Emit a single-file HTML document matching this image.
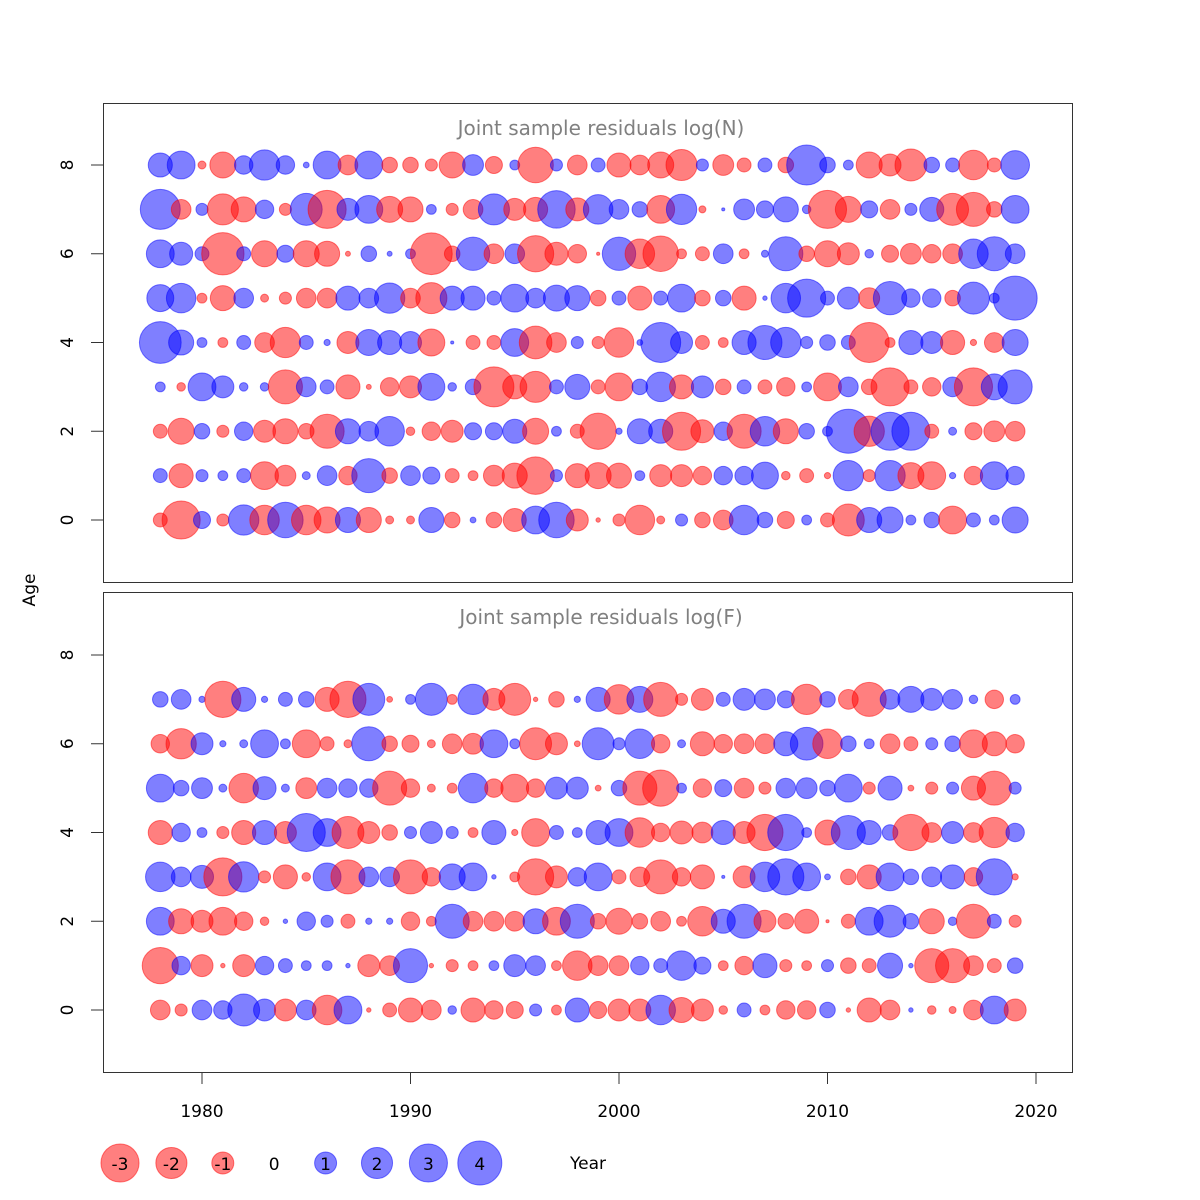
<!DOCTYPE html>
<html><head><meta charset="utf-8"><style>
body{margin:0;background:#fff;}
svg{display:block;font-family:"DejaVu Sans","Liberation Sans",sans-serif;}
</style></head><body>
<svg id="chart" width="1200" height="1200" xmlns="http://www.w3.org/2000/svg">
<rect width="1200" height="1200" fill="#fff"/>
</svg>
<script>
const years = [];
for (let y = 1978; y <= 2019; y++) years.push(y);
const agesN = [0,1,2,3,4,5,6,7,8];
const agesF = [0,1,2,3,4,5,6,7];
const yTicks = [0,2,4,6,8];
const xTicks = [1980,1990,2000,2010,2020];
const legendValues = [-3,-2,-1,0,1,2,3,4];

// residuals log(N), rows by age
const resN = [
[-0.4,-3.0,0.6,-0.3,1.9,-1.8,2.6,-1.8,-1.4,1.3,-1.3,-0.13,-0.13,1.3,-0.5,0.07,-0.5,-1.1,1.6,2.6,-1.0,-0.04,-0.3,-1.8,-0.13,0.3,-0.5,-0.8,1.8,0.5,-0.6,0.2,-0.4,-2.1,1.3,1.4,0.2,0.5,-1.6,0.4,0.2,1.4],
[0.4,-1.2,0.3,0.2,0.4,-1.6,-0.9,0.13,0.8,-0.7,2.4,-0.5,0.8,0.6,-0.4,-0.2,-0.9,-1.3,-2.9,0.3,-1.2,-1.4,-1.3,0.2,-1.0,-1.0,-0.7,0.7,0.7,1.5,-0.15,-0.4,-0.08,1.9,-0.3,1.9,-1.4,-1.6,0.08,-0.7,1.6,0.7],
[-0.4,-1.4,0.5,-0.3,0.7,-1.0,-1.3,-0.5,-2.4,1.3,0.8,1.8,-0.15,-0.7,-1.0,0.6,0.6,1.2,-1.4,0.2,-0.4,-2.7,0.08,1.3,1.2,-3.0,-1.1,0.7,-2.4,1.8,-1.3,0.5,0.2,4.0,-1.9,3.0,3.0,-0.4,0.13,-0.6,-0.9,-0.8],
[0.2,-0.15,1.6,1.0,0.15,0.15,-2.4,0.8,0.4,-1.2,-0.05,-0.7,-1.0,1.5,0.15,0.5,-3.3,-1.2,-2.0,0.4,1.3,-0.4,-1.6,0.5,1.8,-1.2,1.0,-0.5,0.4,-0.4,-0.7,0.2,-1.6,0.8,-0.5,-3.0,-0.4,-0.7,0.8,-3.0,1.4,2.4],
[3.6,1.3,0.2,-0.2,0.4,-0.8,-1.9,0.4,0.08,-1.0,1.4,1.2,1.0,-1.5,0.02,-0.4,-0.4,1.6,-2.2,-0.8,0.3,-0.3,-1.8,0.07,3.3,1.0,-0.4,-0.2,1.2,2.4,1.9,0.3,0.5,0.4,-3.3,-0.2,1.2,1.0,-1.2,-0.08,-0.8,1.4],
[1.5,1.8,-0.2,-1.3,0.8,-0.13,-0.3,-0.8,-0.8,1.2,0.8,1.9,-0.8,-2.0,1.2,1.2,0.4,1.6,0.8,1.4,1.3,-0.5,0.4,-1.2,0.4,1.6,-0.5,0.5,-1.2,0.04,1.8,3.0,0.4,1.0,-0.9,2.3,0.7,0.7,-0.5,2.1,0.2,4.0],
[1.6,1.1,0.4,-3.7,0.4,-1.4,0.6,-1.4,-1.3,-0.05,0.5,0.05,0.2,-3.6,-0.5,2.3,-0.8,0.8,-2.7,-1.1,-0.7,-0.02,2.3,-1.8,-2.6,-0.2,-0.4,0.8,-0.2,0.1,2.4,-0.5,-1.4,-1.0,0.15,-0.6,-0.9,-0.7,-0.8,1.8,2.4,0.8],
[3.3,-0.8,0.3,-2.0,-1.3,0.7,-0.3,2.1,-3.0,1.0,1.6,-1.4,-1.3,0.2,-0.3,-0.8,2.0,-1.0,-1.2,2.9,-1.1,1.8,0.8,0.5,-1.6,1.9,-0.1,0.02,0.9,0.6,1.3,0.15,-3.0,-1.4,0.6,-0.8,0.3,1.2,-2.1,-2.4,-0.5,1.6],
[1.2,1.6,-0.13,-1.4,0.7,1.9,0.7,0.07,1.6,-0.8,1.6,-0.5,-0.5,-0.3,-1.4,0.9,-0.6,0.2,-2.6,0.3,-0.8,0.4,-1.2,-0.8,-1.4,-2.0,0.3,-0.9,-0.4,0.4,-0.5,3.3,0.5,0.2,-1.4,-1.0,-2.1,0.5,0.4,-1.8,-0.4,1.7]
];
// residuals log(F), rows by age
const resF = [
[-0.8,-0.3,0.8,0.7,2.1,1.0,-1.0,0.8,-1.8,1.6,-0.04,-0.4,-1.2,-0.8,0.15,-1.2,-0.7,-0.6,0.3,-0.2,1.2,-0.6,-1.0,-1.0,1.8,-1.3,-1.0,-0.15,0.4,-0.2,-0.7,-0.7,0.5,-0.04,-1.2,-0.8,0.04,-0.15,-0.1,-0.8,1.6,-1.0],
[-2.7,0.7,-1.0,-0.04,-1.0,0.7,0.4,0.2,0.2,0.04,-1.0,-0.8,2.4,-0.04,-0.3,-0.2,0.2,1.0,0.8,-0.2,-1.8,-0.8,-0.8,0.7,0.4,1.8,0.6,-0.2,-0.7,1.2,-0.3,-0.2,0.3,-0.5,-0.4,1.3,0.04,-2.4,-2.4,-0.8,-0.4,0.5],
[1.6,-1.3,-1.0,-1.6,-0.7,-0.15,0.04,0.7,0.3,-0.4,0.08,0.08,-0.7,-0.2,2.4,-0.8,-0.8,-0.8,1.3,-1.6,2.4,-0.5,-1.4,-0.5,-0.8,-0.2,-1.8,1.2,2.4,-1.0,-0.5,-1.2,-0.02,-0.4,1.6,2.1,0.5,-1.3,0.15,-2.4,0.4,-0.3],
[1.8,0.8,1.1,-3.0,1.9,-0.3,-1.2,-0.15,1.6,-2.4,0.8,0.8,-2.4,-0.7,1.4,1.6,0.04,-0.2,-2.7,-1.0,0.7,1.6,-0.4,-0.8,-2.4,-0.7,-1.2,0.02,-1.0,1.8,2.7,1.6,0.07,-0.5,-1.2,1.6,0.5,0.8,1.2,-0.7,2.7,-0.08],
[-1.2,0.7,0.2,-0.3,-1.2,1.2,-1.0,3.0,1.6,-2.1,-1.0,-0.5,0.3,1.0,0.3,-0.2,1.2,-0.08,-1.6,0.4,0.2,1.2,1.6,-1.8,-0.7,-1.1,-0.9,1.2,-1.0,-2.7,2.7,0.2,-1.3,2.4,1.2,0.5,-2.7,-0.8,1.0,-0.8,-1.9,0.7],
[1.6,0.5,0.9,0.13,-1.8,1.1,0.13,-0.9,0.8,0.7,0.7,-2.4,-0.7,-0.13,-0.2,1.8,-0.7,-1.6,-0.7,1.0,1.0,-0.07,0.5,-2.4,-2.7,0.2,-0.7,0.6,-0.8,-0.3,0.8,0.9,0.5,1.6,-0.3,1.2,-0.07,-0.3,0.3,-1.2,-2.4,0.3],
[-0.7,-1.9,1.0,0.08,0.13,1.6,0.2,-1.6,-0.4,-0.13,2.4,-0.5,-0.6,-0.13,-0.8,-0.9,1.6,0.2,-2.1,-1.0,-0.07,2.1,0.3,1.8,-0.7,0.13,-1.2,-0.7,-0.8,-0.8,1.2,2.2,-1.8,0.5,0.2,-0.8,-0.4,0.3,0.5,-1.6,-1.2,-0.7],
[0.5,0.8,0.08,-2.7,1.2,0.08,0.4,0.5,-1.2,-2.7,2.1,-0.07,0.2,2.1,-0.2,1.9,-1.0,-2.1,-0.04,-0.5,0.08,1.2,-1.8,1.4,-2.4,-0.3,-1.0,0.4,1.0,0.9,0.6,-1.9,0.5,-0.8,-2.4,0.8,1.4,1.0,0.8,0.15,-0.7,0.2]
];

const NS = "http://www.w3.org/2000/svg";
const svg = document.getElementById('chart');
function mk(tag, attrs, parent){const e=document.createElementNS(NS,tag);for(const k in attrs)e.setAttribute(k,attrs[k]);(parent||svg).appendChild(e);return e;}

const xScale = yr => 202 + (yr - 1980) * 20.85;
const rScale = v => 11 * Math.sqrt(Math.abs(v));
const panels = [
  {top:103,bottom:582,y8:165,y0:520,title:"Joint sample residuals log(N)",data:resN,ages:agesN,name:"panel-log-n"},
  {top:592,bottom:1072,y8:655,y0:1010,title:"Joint sample residuals log(F)",data:resF,ages:agesF,name:"panel-log-f"}
];
const FILL_R="rgba(255,0,0,0.5)", FILL_B="rgba(0,0,255,0.5)";

panels.forEach(p=>{
  const yScale = a => p.y0 + (p.y8 - p.y0) * a / 8;
  const g = mk('g',{});
  
  
  const frame = mk('rect',{x:103.5,y:p.top+0.5,width:969,height:p.bottom-p.top,fill:'none',stroke:'#333','stroke-width':1},g);
  
  
  const t = mk('text',{x:601,y:p.top+32,'text-anchor':'middle','font-size':20,fill:'#808080'},g);
  t.textContent = p.title;
  
  
  yTicks.forEach(v=>{
    const y = yScale(v);
    const tk = mk('line',{x1:91,x2:103,y1:y,y2:y,stroke:'#333'},g);
    
    
    const lb = mk('text',{x:0,y:0,transform:`translate(${103-30},${y}) rotate(-90)`,'text-anchor':'middle','font-size':17,fill:'#000'},g);
    lb.textContent = v;
    
    
  });
  p.data.forEach((row,ai)=>{
    const cy = yScale(p.ages[ai]);
    row.forEach((v,yi)=>{
      const c = mk('circle',{cx:xScale(years[yi]),cy:cy,r:rScale(v),fill:v<0?FILL_R:FILL_B,stroke:v<0?FILL_R:FILL_B,'stroke-width':1},g);
      
      
    });
  });
});

// x axis
xTicks.forEach(v=>{
  const x = xScale(v);
  const tk = mk('line',{x1:x,x2:x,y1:1072,y2:1084,stroke:'#333'});
  
  
  const lb = mk('text',{x:x,y:1117,'text-anchor':'middle','font-size':17,fill:'#000'});
  lb.textContent = v;
  
  
});
const xl = mk('line',{x1:xScale(1980),x2:xScale(2020),y1:1072.5,y2:1072.5,stroke:'#333'});



const ageT = mk('text',{x:0,y:0,transform:'translate(35,590) rotate(-90)','text-anchor':'middle','font-size':17,fill:'#000'});
ageT.textContent = 'Age';



// legend
legendValues.forEach((v,i)=>{
  const x = 120 + i * 51.4;
  if (v !== 0) {
    const c = mk('circle',{cx:x,cy:1163,r:rScale(v),fill:v<0?FILL_R:FILL_B,stroke:v<0?FILL_R:FILL_B});
    
    
  }
  const t = mk('text',{x:x,y:1170,'text-anchor':'middle','font-size':17,fill:'#000'});
  t.textContent = v;
  
  
});
const yr = mk('text',{x:588,y:1169,'text-anchor':'middle','font-size':17,fill:'#000'});
yr.textContent = 'Year';


</script>
</body></html>
